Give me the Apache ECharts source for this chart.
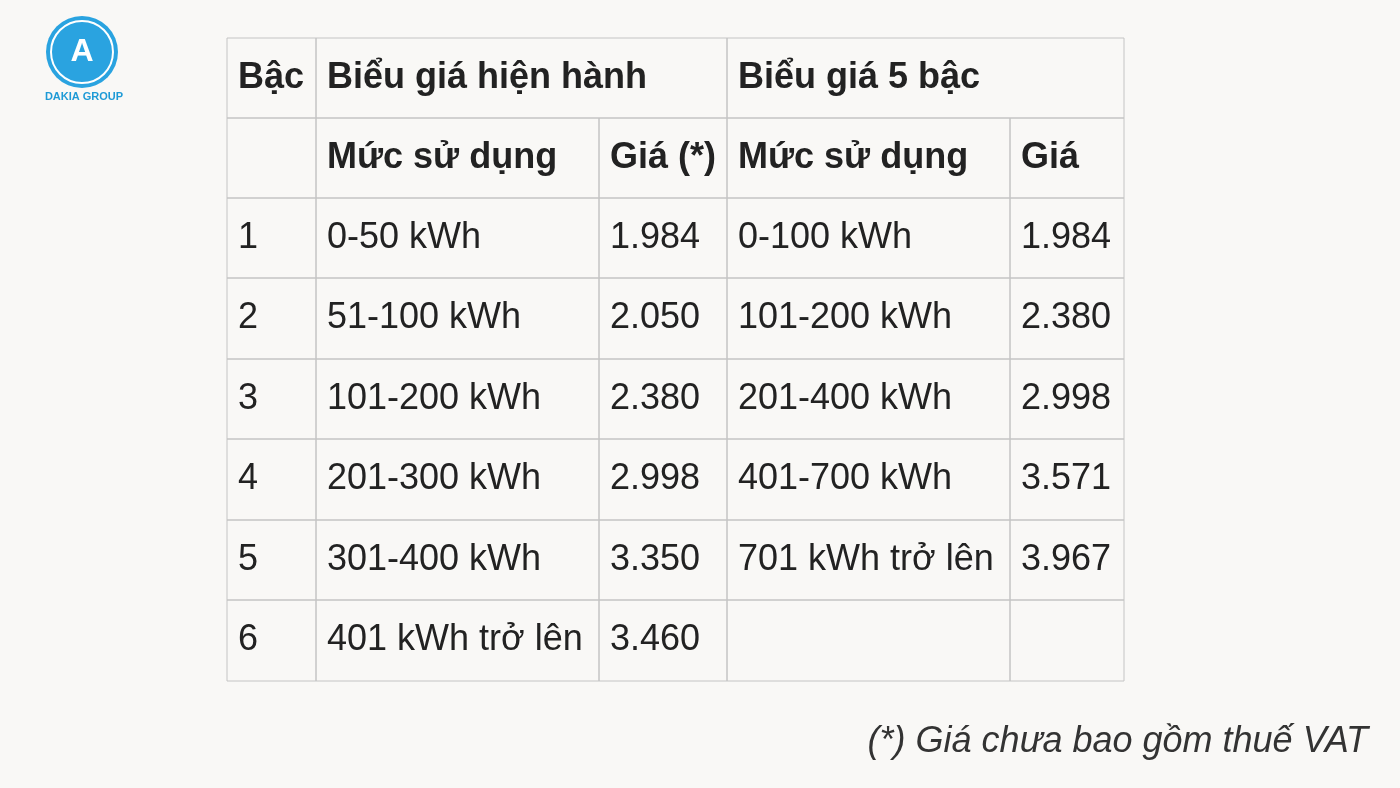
<!DOCTYPE html>
<html>
<head>
<meta charset="utf-8">
<script src="https://cdn.jsdelivr.net/npm/echarts@6/dist/echarts.min.js"></script>
<style>
  html, body { margin: 0; background: #f9f8f6; }
  #main { width: 1400px; height: 788px; }
</style>
</head>
<body>
<div id="main"></div>
<script>
// table data
const colEdges = [227, 316, 599, 727, 1010, 1124];
const rowEdges = [38, 118, 198, 278, 359, 439, 520, 600, 681];
const headerRow = [['Bậc', 0, 1], ['Biểu giá hiện hành', 1, 3], ['Biểu giá 5 bậc', 3, 5]];
const subHeader = ['', 'Mức sử dụng', 'Giá (*)', 'Mức sử dụng', 'Giá'];
const steps = ['1', '2', '3', '4', '5', '6'];
const currentRanges = ['0-50 kWh', '51-100 kWh', '101-200 kWh', '201-300 kWh', '301-400 kWh', '401 kWh trở lên'];
const currentPrices = ['1.984', '2.050', '2.380', '2.998', '3.350', '3.460'];
const newRanges = ['0-100 kWh', '101-200 kWh', '201-400 kWh', '401-700 kWh', '701 kWh trở lên', ''];
const newPrices = ['1.984', '2.380', '2.998', '3.571', '3.967', ''];

// cells: [colStart, colEnd, row, text, bold]
const cells = [];
headerRow.forEach(h => cells.push([h[1], h[2], 0, h[0], 1]));
subHeader.forEach((t, i) => cells.push([i, i + 1, 1, t, 1]));
steps.forEach((s, r) => {
  const vals = [s, currentRanges[r], currentPrices[r], newRanges[r], newPrices[r]];
  vals.forEach((t, i) => cells.push([i, i + 1, r + 2, t, 0]));
});

const chart = echarts.init(document.getElementById('main'));
chart.setOption({
  backgroundColor: '#f9f8f6',
  grid: { left: 0, right: 0, top: 0, bottom: 0 },
  xAxis: { type: 'value', min: 0, max: 1400, show: false },
  yAxis: { type: 'value', min: 0, max: 788, inverse: true, show: false },
  series: [{
    type: 'custom',
    coordinateSystem: 'cartesian2d',
    data: cells,
    renderItem: function (params, api) {
      const c0 = api.value(0), c1 = api.value(1), r = api.value(2);
      const p0 = api.coord([colEdges[c0], rowEdges[r]]);
      const p1 = api.coord([colEdges[c1], rowEdges[r + 1]]);
      const cell = cells[params.dataIndex];
      return {
        type: 'group',
        children: [{
          type: 'rect',
          shape: { x: p0[0], y: p0[1], width: p1[0] - p0[0], height: p1[1] - p0[1] },
          style: { fill: 'none', stroke: '#c4c4c4', lineWidth: 1 }
        }, {
          type: 'text',
          style: {
            x: p0[0] + 11, y: (p0[1] + p1[1]) / 2,
            text: cell[3],
            fill: '#222',
            font: (cell[4] ? 'bold ' : '') + '36px "Liberation Sans", Arial, sans-serif',
            verticalAlign: 'middle', align: 'left'
          }
        }]
      };
    }
  }],
  graphic: [
    { type: 'circle', shape: { cx: 82, cy: 52, r: 36 }, style: { fill: '#2aa3e0' } },
    { type: 'circle', shape: { cx: 82, cy: 52, r: 31 }, style: { fill: 'none', stroke: '#fff', lineWidth: 2 } },
    { type: 'text', style: { x: 82, y: 52, text: 'A', align: 'center', verticalAlign: 'middle', fill: '#fff', font: 'bold 32px "Liberation Sans", sans-serif' } },
    { type: 'text', style: { x: 84, y: 97, text: 'DAKIA GROUP', align: 'center', verticalAlign: 'middle', fill: '#1e9ad6', font: 'bold 11px "Liberation Sans", sans-serif' } },
    { type: 'text', style: { x: 1368, y: 742, text: '(*) Giá chưa bao gồm thuế VAT', align: 'right', verticalAlign: 'middle', fill: '#333', font: 'italic 36px "Liberation Sans", Arial, sans-serif' } }
  ]
});
</script>
</body>
</html>
